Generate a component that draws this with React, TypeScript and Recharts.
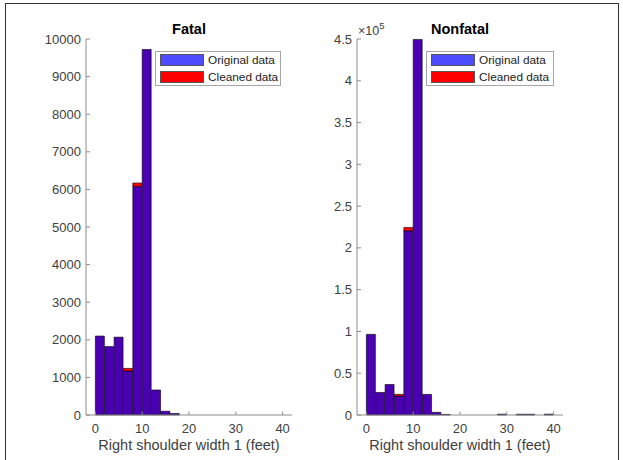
import { Bar, BarChart, Legend, XAxis, YAxis } from "recharts";

// histogram bins are 2 ft wide, centres 1..39
const binCenters = [1, 3, 5, 7, 9, 11, 13, 15, 17, 19, 21, 23, 25, 27, 29, 31, 33, 35, 37, 39];

const fatalOriginal = [2100, 1820, 2070, 1170, 6080, 9720, 665, 100, 40, 0, 0, 0, 0, 0, 0, 0, 0, 0, 0, 0];
const fatalCleaned = [2100, 1820, 2070, 1240, 6170, 9720, 665, 100, 40, 0, 0, 0, 0, 0, 0, 0, 0, 0, 0, 0];

const nonfatalOriginal = [96500, 27000, 36500, 22700, 220500, 449500, 24700, 3200, 700, 0, 0, 0, 0, 0, 1000, 0, 900, 900, 0, 1000];
const nonfatalCleaned = [96500, 27000, 36500, 24700, 224500, 449500, 24700, 3200, 700, 0, 0, 0, 0, 0, 1000, 0, 900, 900, 0, 1000];

const xTicks = [0, 10, 20, 30, 40];
const fatalTicks = [0, 1000, 2000, 3000, 4000, 5000, 6000, 7000, 8000, 9000, 10000];
const nonfatalTicks = [0, 50000, 100000, 150000, 200000, 250000, 300000, 350000, 400000, 450000];

const FONT = '"Liberation Sans", Arial, Helvetica, sans-serif';
const PURPLE = "#4a00b2";
const BLUE = "#4d4dff";
const RED = "#ff0000";
const AXIS = "#8c8c8c";
const TEXT = "#404040";

function buildRows(orig: number[], clean: number[]) {
  return binCenters.map((x, i) => {
    const both = Math.min(orig[i], clean[i]);
    return { x, both, redOnly: clean[i] - both, blueOnly: orig[i] - both };
  });
}

function XTick(props: any) {
  const { x, y, payload } = props;
  return (
    <g>
      <line x1={x} y1={y} x2={x} y2={y - 3.5} stroke={AXIS} />
      <text x={x} y={y + 18} textAnchor="middle" fill={TEXT} fontSize={13} fontFamily={FONT}>
        {payload.value}
      </text>
    </g>
  );
}

function makeYTick(fmt: (v: number) => string) {
  return (props: any) => {
    const { x, y, payload } = props;
    return (
      <g>
        <line x1={x} y1={y} x2={x + 4} y2={y} stroke={AXIS} />
        <text x={x - 5} y={y + 4.6} textAnchor="end" fill={TEXT} fontSize={13} fontFamily={FONT}>
          {fmt(payload.value)}
        </text>
      </g>
    );
  };
}

function LegendBox({ width }: { width: number }) {
  const row = (color: string, label: string, top: number) => (
    <div style={{ position: "absolute", left: 4, top, display: "flex", alignItems: "center" }}>
      <div style={{ width: 42, height: 10, background: color, border: "1px solid #555" }} />
      <span style={{ marginLeft: 4, fontSize: 11.8, color: "#222", lineHeight: "12px" }}>{label}</span>
    </div>
  );
  return (
    <div
      style={{
        position: "relative",
        width,
        height: 33,
        border: "1px solid #a6a6a6",
        background: "#fff",
        fontFamily: FONT,
      }}
    >
      {row(BLUE, "Original data", 2)}
      {row(RED, "Cleaned data", 19)}
    </div>
  );
}

interface HistProps {
  left: number;
  marginLeft: number;
  marginRight: number;
  rows: ReturnType<typeof buildRows>;
  yMax: number;
  yTicks: number[];
  fmt: (v: number) => string;
  legendLeft: number;
  legendWidth: number;
}

function Hist({ left, marginLeft, marginRight, rows, yMax, yTicks, fmt, legendLeft, legendWidth }: HistProps) {
  return (
    <div style={{ position: "absolute", left, top: 0 }}>
      <BarChart
        width={300}
        height={460}
        data={rows}
        margin={{ top: 39, right: marginRight, bottom: 25, left: marginLeft }}
        barCategoryGap={0}
        barGap={0}
      >
        <XAxis
          dataKey="x"
          type="number"
          domain={[-2, 42]}
          ticks={xTicks}
          interval={0}
          height={20}
          tickSize={0}
          tickMargin={0}
          tickLine={false}
          axisLine={{ stroke: AXIS }}
          tick={XTick}
        />
        <YAxis
          type="number"
          domain={[0, yMax]}
          ticks={yTicks}
          interval={0}
          width={40}
          tickSize={0}
          tickMargin={0}
          tickLine={false}
          axisLine={{ stroke: AXIS }}
          tick={makeYTick(fmt)}
        />
        <Legend
          layout="vertical"
          align="center"
          verticalAlign="middle"
          wrapperStyle={{ left: legendLeft, top: 51, width: legendWidth + 2, height: 35 }}
          content={() => <LegendBox width={legendWidth} />}
        />
        <Bar dataKey="both" stackId="h" fill={PURPLE} stroke="#000" strokeOpacity={0.75} strokeWidth={0.8} isAnimationActive={false} />
        <Bar dataKey="redOnly" stackId="h" fill={RED} stroke="#000" strokeOpacity={0.75} strokeWidth={0.8} isAnimationActive={false} />
        <Bar dataKey="blueOnly" stackId="h" fill={BLUE} stroke="#000" strokeOpacity={0.75} strokeWidth={0.8} isAnimationActive={false} />
      </BarChart>
    </div>
  );
}

export default function App() {
  const fatalRows = buildRows(fatalOriginal, fatalCleaned);
  const nonfatalRows = buildRows(nonfatalOriginal, nonfatalCleaned);
  const xlabel = "Right shoulder width 1 (feet)";

  return (
    <div style={{ position: "fixed", left: 0, top: 0, width: 623, height: 460, background: "#fff", overflow: "hidden" }}>
      <div style={{ position: "absolute", left: 5, top: 3, width: 612, height: 470, border: "1px solid #333" }} />
      <Hist
        left={0}
        marginLeft={46}
        marginRight={8}
        rows={fatalRows}
        yMax={10000}
        yTicks={fatalTicks}
        fmt={(v) => String(v)}
        legendLeft={155}
        legendWidth={124}
      />
      <Hist
        left={300}
        marginLeft={17}
        marginRight={37}
        rows={nonfatalRows}
        yMax={450000}
        yTicks={nonfatalTicks}
        fmt={(v) => String(v / 1e5)}
        legendLeft={126}
        legendWidth={126}
      />
      <svg width={623} height={460} style={{ position: "absolute", left: 0, top: 0, pointerEvents: "none" }}>
        <g fontFamily={FONT}>
          <text x={189} y={34} textAnchor="middle" fontSize={14.5} fontWeight="bold" fill="#000">
            Fatal
          </text>
          <text x={460} y={34} textAnchor="middle" fontSize={14.5} fontWeight="bold" fill="#000">
            Nonfatal
          </text>
          <text x={189} y={450} textAnchor="middle" fontSize={14.5} fill={TEXT}>
            {xlabel}
          </text>
          <text x={460} y={450} textAnchor="middle" fontSize={14.5} fill={TEXT}>
            {xlabel}
          </text>
          <text x={358} y={35} fontSize={12.5} fill={TEXT}>
            ×10
            <tspan dy={-6.5} fontSize={9.5}>5</tspan>
          </text>
        </g>
      </svg>
    </div>
  );
}
